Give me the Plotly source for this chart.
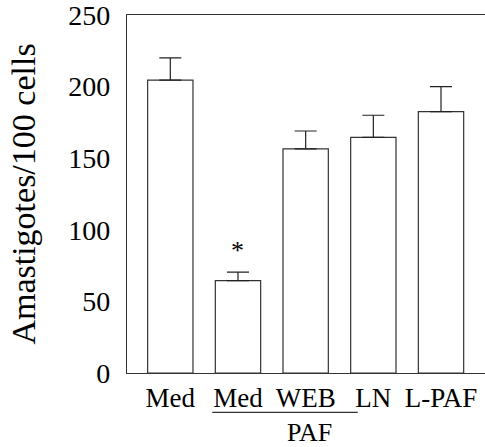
import plotly.graph_objects as go

labels = ["Med", "Med", "WEB", "LN", "L-PAF"]
values = [204.5, 64.5, 156.5, 164.5, 182.5]
errors = [15.5, 6.0, 12.5, 15.5, 17.5]
x_pos = [0, 1, 2, 3, 4]
y_ticks = [0, 50, 100, 150, 200, 250]

serif = "Liberation Serif"

fig = go.Figure()
fig.add_trace(go.Bar(
    x=x_pos, y=values, width=0.67,
    marker=dict(color="white", line=dict(color="#333333", width=1.2)),
    error_y=dict(type="data", array=errors, arrayminus=[0]*5, symmetric=False,
                 color="#222222", thickness=1.2, width=11),
))

fig.add_annotation(x=1, y=values[1] + errors[1], text="*", showarrow=False,
                   yshift=22, font=dict(family=serif, size=26, color="black"))
fig.add_shape(type="line", xref="x", yref="paper", x0=0.62, x1=2.77, y0=-0.110, y1=-0.110,
              line=dict(color="#333333", width=1.2))
fig.add_annotation(x=2.06, y=-0.166, xref="x", yref="paper", text="PAF", showarrow=False,
                   font=dict(family=serif, size=26, color="black"), yanchor="middle")

fig.update_layout(
    width=485, height=447,
    margin=dict(l=127, r=0, t=11, b=74),
    plot_bgcolor="white", paper_bgcolor="white",
    showlegend=False,
    font=dict(family=serif, color="black"),
)
fig.update_xaxes(range=[-0.64, 4.65], tickvals=x_pos, ticktext=labels,
                 tickfont=dict(size=27), ticks="", showgrid=False, zeroline=False,
                 showline=True, linecolor="#333333", linewidth=1.2, mirror=True)
fig.update_yaxes(range=[0, 250], tickvals=y_ticks, tickfont=dict(size=28), ticks="",
                 ticklabelstandoff=10, ticklabeloverflow="allow",
                 showgrid=False, zeroline=False, showline=True, linecolor="#333333",
                 linewidth=1.2, title=dict(text="Amastigotes/100 cells", font=dict(size=34), standoff=22))

fig.write_html("out.html")
